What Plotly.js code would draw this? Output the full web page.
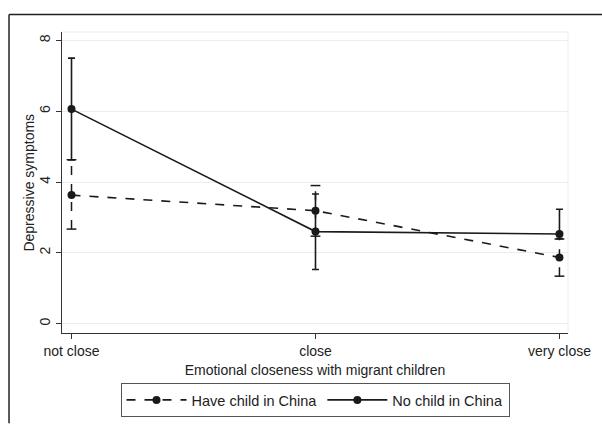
<!DOCTYPE html>
<html>
<head>
<meta charset="utf-8">
<script src="https://cdn.plot.ly/plotly-3.0.1.min.js"></script>
<style>html,body{margin:0;padding:0;background:#fff;}#chart{width:602px;height:429px;}</style>
</head>
<body>
<div id="chart"></div>
<script>
// Data
const categories = ["not close", "close", "very close"];
const catPos = [0, 1, 2];
const haveMean = [3.63, 3.19, 1.87];
const haveLo = [2.67, 2.47, 1.34];
const haveHi = [4.63, 3.90, 2.39];
const noMean = [6.06, 2.60, 2.53];
const noLo = [4.62, 1.53, 2.40];
const noHi = [7.50, 3.66, 3.23];
const seriesNames = ["Have child in China", "No child in China"];
const xTitle = "Emotional closeness with migrant children";
const yTitle = "Depressive symptoms";

const ink = "#1a1a1a";
const traces = [];

// dashed CI segments for "Have child"
catPos.forEach((c, i) => {
  traces.push({
    x: [c, c], y: [haveLo[i], haveHi[i]], mode: "lines+markers", type: "scatter",
    line: {color: ink, width: 1.5, dash: "dash"},
    marker: {symbol: "line-ew", size: 7, line: {color: ink, width: 1.5}},
    showlegend: false, hoverinfo: "skip"
  });
});

traces.push({
  x: catPos, y: haveMean, name: seriesNames[0], type: "scatter", mode: "lines+markers",
  line: {color: ink, width: 1.6, dash: "dash"},
  marker: {color: ink, size: 8, symbol: "circle"}
});

traces.push({
  x: catPos, y: noMean, name: seriesNames[1], type: "scatter", mode: "lines+markers",
  line: {color: ink, width: 1.6},
  marker: {color: ink, size: 8, symbol: "circle"},
  error_y: {type: "data", symmetric: false,
    array: noHi.map((h, i) => h - noMean[i]),
    arrayminus: noMean.map((m, i) => m - noLo[i]),
    color: ink, thickness: 1.6, width: 3.5}
});

const fam = "Liberation Sans, Arial, sans-serif";
const font = {family: fam, size: 14, color: "#222"};

const layout = {
  width: 602, height: 429,
  margin: {l: 62, r: 34, t: 32, b: 86},
  paper_bgcolor: "#fff", plot_bgcolor: "#fff",
  font: font,
  showlegend: true,
  xaxis: {
    range: [-0.039, 2.035],
    tickvals: catPos, ticktext: categories,
    showgrid: false, zeroline: false,
    showline: true, linecolor: "#333", linewidth: 1,
    ticks: "outside", ticklen: 5, tickcolor: "#333",
    tickfont: {size: 14, family: fam, color: "#222"},
    title: {text: xTitle, standoff: 7,
      font: {size: 14, family: fam, color: "#222"}}
  },
  yaxis: {
    range: [-0.265, 8.238],
    tickvals: [0, 2, 4, 6, 8],
    tickangle: -90,
    showgrid: true, gridcolor: "#ececec", gridwidth: 1,
    zeroline: false,
    showline: true, linecolor: "#333", linewidth: 1,
    ticks: "outside", ticklen: 5, tickcolor: "#333",
    tickfont: {size: 14, family: fam, color: "#222"}
  },
  annotations: [
    {text: yTitle, xref: "paper", yref: "paper", x: -0.067, y: 0.5,
     xanchor: "center", yanchor: "middle", textangle: -90, showarrow: false,
     font: {size: 14, family: fam, color: "#222"}}
  ],
  legend: {
    orientation: "h", x: 0.5, xanchor: "center", y: -0.166, yanchor: "top",
    bordercolor: "#555", borderwidth: 1, bgcolor: "#fff",
    itemwidth: 60,
    font: {size: 14.5, family: fam, color: "#222"},
    traceorder: "normal"
  },
  shapes: [
    {type: "line", xref: "paper", yref: "paper", x0: -0.1047, x1: 1.07, y0: 1.058, y1: 1.058,
     line: {color: "#222", width: 1.5}},
    {type: "line", xref: "paper", yref: "paper", x0: -0.1047, x1: -0.1047, y0: 1.058, y1: -0.3,
     line: {color: "#222", width: 1.5}},
    {type: "line", xref: "paper", yref: "paper", x0: 0, x1: 1, y0: 1, y1: 1,
     line: {color: "#ececec", width: 1}},
    {type: "line", xref: "paper", yref: "paper", x0: 1, x1: 1, y0: 0, y1: 1,
     line: {color: "#ececec", width: 1}}
  ]
};

Plotly.newPlot("chart", traces, layout, {displayModeBar: false, staticPlot: true});
</script>
</body>
</html>
